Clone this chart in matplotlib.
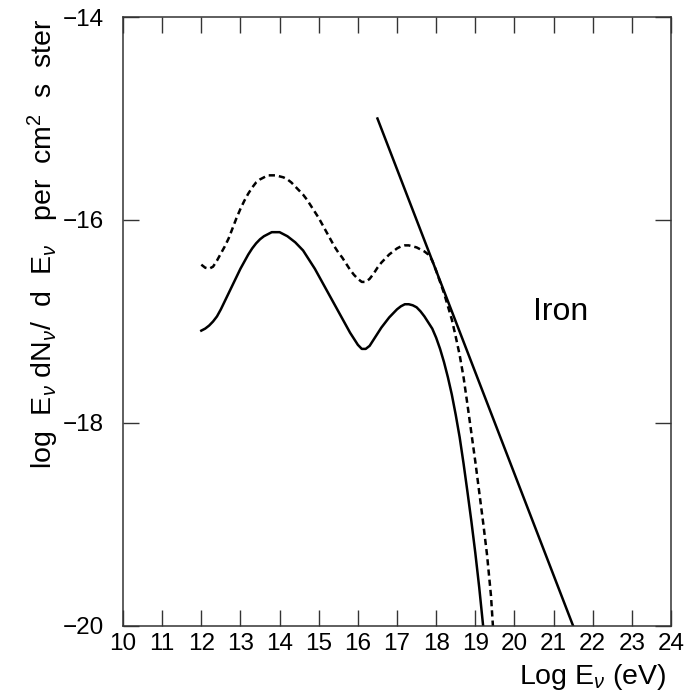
import matplotlib
matplotlib.use("Agg")
import matplotlib.pyplot as plt

plt.rcParams["font.family"] = ["Liberation Sans", "DejaVu Sans"]
plt.rcParams["mathtext.fontset"] = "custom"
plt.rcParams["mathtext.rm"] = "Liberation Sans"
plt.rcParams["mathtext.it"] = "Liberation Sans:italic"

# solid curve (lower), every 0.1 in log E
solid_x = [12.0, 12.1, 12.2, 12.3, 12.4, 12.5, 12.6, 12.7, 12.8, 12.9,
           13.0, 13.1, 13.2, 13.3, 13.4, 13.5, 13.6, 13.7, 13.8, 13.9,
           14.0, 14.1, 14.2, 14.3, 14.4, 14.5, 14.6, 14.7, 14.8, 14.9,
           15.0, 15.1, 15.2, 15.3, 15.4, 15.5, 15.6, 15.7, 15.8, 15.9,
           16.0, 16.1, 16.2, 16.3, 16.4, 16.5, 16.6, 16.7, 16.8, 16.9,
           17.0, 17.1, 17.2, 17.3, 17.4, 17.5, 17.6, 17.7, 17.8, 17.9,
           18.0, 18.1, 18.2, 18.3, 18.4, 18.5, 18.6, 18.7, 18.8, 18.9,
           19.0, 19.1, 19.2]
solid_y = [-17.09, -17.07, -17.04, -17.00, -16.95, -16.88, -16.80, -16.72,
           -16.64, -16.56, -16.48, -16.41, -16.34, -16.28, -16.23, -16.19,
           -16.16, -16.14, -16.12, -16.12, -16.12, -16.14, -16.16, -16.19,
           -16.22, -16.26, -16.30, -16.36, -16.42, -16.48, -16.55, -16.62,
           -16.69, -16.76, -16.83, -16.90, -16.97, -17.04, -17.11, -17.17,
           -17.23, -17.27, -17.27, -17.24, -17.18, -17.12, -17.06, -17.01,
           -16.96, -16.92, -16.88, -16.85, -16.83, -16.83, -16.84, -16.86,
           -16.90, -16.95, -17.01, -17.07, -17.16, -17.27, -17.40, -17.55,
           -17.72, -17.92, -18.14, -18.40, -18.68, -18.97, -19.28, -19.62,
           -20.0]

# dashed curve (upper)
dashed_x = [12.0, 12.1, 12.2, 12.3, 12.4, 12.5, 12.6, 12.7, 12.8, 12.9,
            13.0, 13.1, 13.2, 13.3, 13.4, 13.5, 13.6, 13.7, 13.8, 13.9,
            14.0, 14.1, 14.2, 14.3, 14.4, 14.5, 14.6, 14.7, 14.8, 14.9,
            15.0, 15.1, 15.2, 15.3, 15.4, 15.5, 15.6, 15.7, 15.8, 15.9,
            16.0, 16.1, 16.2, 16.3, 16.4, 16.5, 16.6, 16.7, 16.8, 16.9,
            17.0, 17.1, 17.2, 17.3, 17.4, 17.5, 17.6, 17.7, 17.8, 17.9,
            18.0, 18.1, 18.2, 18.3, 18.4, 18.5, 18.6, 18.7, 18.8, 18.9,
            19.0, 19.1, 19.2, 19.3, 19.4, 19.45]
dashed_y = [-16.44, -16.47, -16.48, -16.46, -16.40, -16.33, -16.26, -16.18,
            -16.08, -15.98, -15.89, -15.81, -15.74, -15.68, -15.63, -15.60,
            -15.58, -15.56, -15.56, -15.56, -15.57, -15.58, -15.60, -15.63,
            -15.67, -15.71, -15.75, -15.80, -15.86, -15.92, -15.98, -16.05,
            -16.12, -16.19, -16.26, -16.32, -16.37, -16.43, -16.49, -16.54,
            -16.58, -16.61, -16.61, -16.58, -16.53, -16.47, -16.42, -16.38,
            -16.34, -16.31, -16.28, -16.26, -16.25, -16.25, -16.26, -16.27,
            -16.29, -16.31, -16.34, -16.40, -16.50, -16.61, -16.72, -16.85,
            -16.98, -17.15, -17.33, -17.55, -17.82, -18.10, -18.38, -18.68,
            -18.98, -19.30, -19.70, -20.0]

# straight limit line
limit_x = [16.5, 21.5]
limit_y = [-15.0, -20.0]

x_ticks = list(range(10, 25))
y_ticks = [-20, -18, -16, -14]


def main() -> None:
    fig = plt.figure(figsize=(6.95, 6.94), dpi=100)
    ax = fig.add_axes([0.177, 0.098, 0.7885, 0.8775])

    ax.plot(solid_x, solid_y, color="black", lw=1.8)
    ax.plot(dashed_x, dashed_y, color="black", lw=1.8, ls=(0, (2.5, 1.6)))
    ax.plot(limit_x, limit_y, color="black", lw=1.8)

    ax.set_xlim(10, 24)
    ax.set_ylim(-20, -14)
    ax.set_xticks(x_ticks)
    ax.set_yticks(y_ticks)

    ax.tick_params(axis="both", direction="in", length=11.5, width=1.0,
                   color="#333333", top=True, right=True, labelsize=17.5)
    ax.tick_params(axis="x", pad=5)
    ax.tick_params(axis="y", pad=14)
    for spine in ax.spines.values():
        spine.set_linewidth(1.1)
        spine.set_color("#333333")

    ax.text(21.19, -16.91, "Iron", fontsize=23, ha="center", va="center")

    ax.set_xlabel(r"Log E$_{\nu}$ (eV)", fontsize=20.5, va="center")
    ax.xaxis.set_label_coords(0.858, -0.084)
    ax.set_ylabel(r"log  E$_{\nu}$ dN$_{\nu}$/  d  E$_{\nu}$   per  cm$^{2}$  s  ster",
                  fontsize=20.5, va="center")
    ax.yaxis.set_label_coords(-0.146, 0.627)

    fig.savefig("out.png", dpi=100)
    plt.close(fig)


if __name__ == "__main__":
    main()
